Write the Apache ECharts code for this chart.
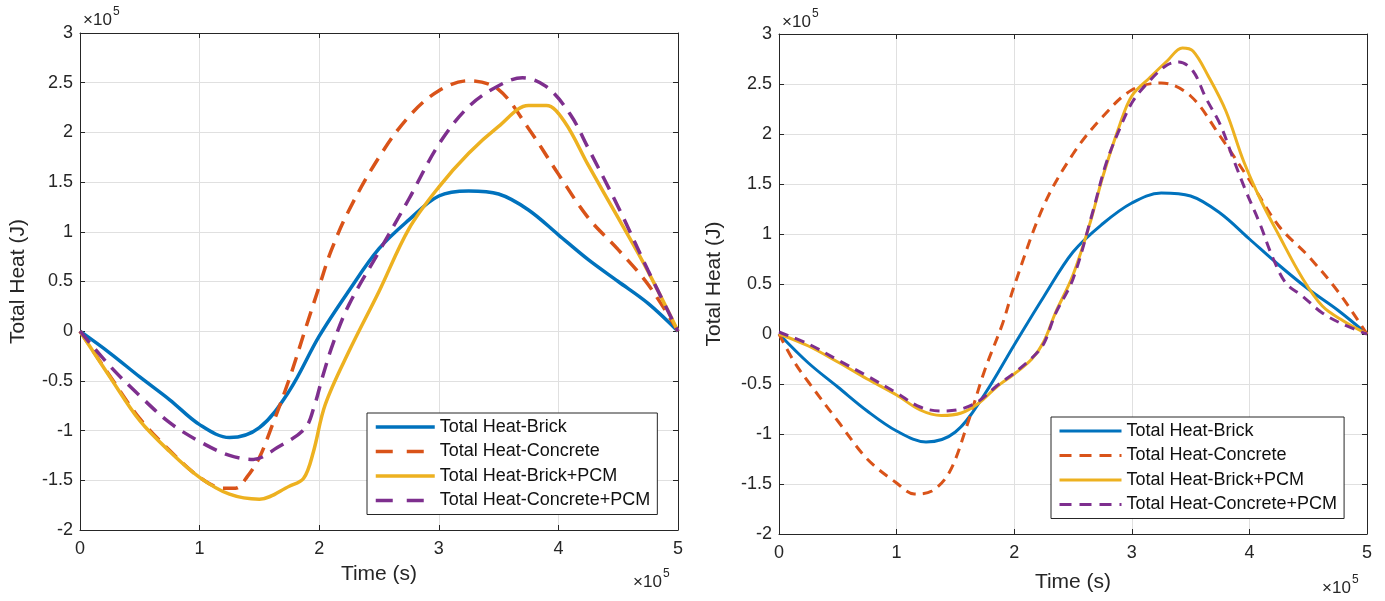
<!DOCTYPE html>
<html><head><meta charset="utf-8">
<script src="https://cdn.jsdelivr.net/npm/echarts@6/dist/echarts.min.js"></script>
<style>html,body{margin:0;padding:0;background:#fff}#c{width:1385px;height:601px}</style>
</head><body><div id="c"></div>
<script>
// Units: time in 1e5 s, heat in 1e5 J (axes carry the x10^5 multiplier)
const seriesNames = ['Total Heat-Brick','Total Heat-Concrete','Total Heat-Brick+PCM','Total Heat-Concrete+PCM'];
const xTicks = [0,1,2,3,4,5];
const yTicks = [-2,-1.5,-1,-0.5,0,0.5,1,1.5,2,2.5,3];

// ---- Left chart ----
const brickL_t = [0,0.25,0.5,0.75,1,1.25,1.5,1.75,2,2.25,2.5,2.75,3,3.25,3.5,3.75,4,4.25,4.5,4.75,5];
const brickL   = [0,-0.22,-0.46,-0.69,-0.94,-1.07,-0.97,-0.60,-0.05,0.41,0.83,1.12,1.36,1.41,1.38,1.22,0.97,0.72,0.50,0.28,0];
const concL_t  = [0,0.25,0.5,0.75,1,1.2,1.3,1.4,1.5,1.6,1.75,1.9,2,2.1,2.25,2.5,2.75,3,3.25,3.5,3.75,4,4.25,4.5,4.75,5];
const concL    = [0,-0.45,-0.88,-1.2,-1.47,-1.58,-1.58,-1.46,-1.27,-0.97,-0.48,0.08,0.45,0.81,1.22,1.75,2.16,2.42,2.52,2.43,2.04,1.58,1.14,0.82,0.47,0];
const brpcmL_t = [0,0.25,0.5,0.75,1,1.25,1.5,1.75,1.87,1.95,2.05,2.25,2.5,2.75,3,3.25,3.5,3.75,3.9,4.05,4.25,4.5,4.75,5];
const brpcmL   = [0,-0.46,-0.9,-1.21,-1.47,-1.64,-1.69,-1.56,-1.48,-1.22,-0.74,-0.2,0.4,1.03,1.45,1.79,2.06,2.27,2.27,2.11,1.67,1.14,0.6,0];
const cpcmL_t  = [0,0.25,0.5,0.75,1,1.25,1.45,1.65,1.88,1.96,2.03,2.12,2.25,2.5,2.75,3,3.25,3.5,3.7,3.9,4.1,4.25,4.5,4.75,5];
const cpcmL    = [0,-0.35,-0.65,-0.92,-1.11,-1.25,-1.29,-1.17,-0.98,-0.75,-0.45,-0.11,0.27,0.8,1.33,1.88,2.26,2.47,2.55,2.46,2.18,1.84,1.25,0.61,0];

// ---- Right chart ----
const brickR_t = [0,0.25,0.5,0.75,1,1.25,1.5,1.75,2,2.25,2.5,2.75,3,3.25,3.5,3.75,4,4.25,4.5,4.75,5];
const brickR   = [0,-0.29,-0.53,-0.77,-0.97,-1.08,-0.98,-0.60,-0.11,0.37,0.82,1.10,1.31,1.41,1.38,1.21,0.95,0.69,0.45,0.24,0];
const concR_t  = [0,0.125,0.25,0.5,0.75,1,1.15,1.3,1.45,1.6,1.75,1.9,2,2.25,2.5,2.75,3,3.25,3.5,3.75,4,4.25,4.5,4.75,5];
const concR    = [0,-0.27,-0.48,-0.87,-1.25,-1.49,-1.6,-1.57,-1.38,-0.91,-0.36,0.1,0.48,1.28,1.8,2.17,2.44,2.51,2.38,1.98,1.54,1.08,0.78,0.43,0];
const brpcmR_t = [0,0.25,0.5,0.75,1,1.2,1.38,1.55,1.7,1.85,2,2.15,2.25,2.35,2.5,2.65,2.75,2.9,3,3.15,3.3,3.43,3.52,3.65,3.8,3.95,4.1,4.25,4.45,4.62,4.8,5];
const brpcmR   = [0,-0.12,-0.28,-0.45,-0.61,-0.76,-0.815,-0.79,-0.69,-0.53,-0.4,-0.25,-0.08,0.21,0.59,1.13,1.56,2.1,2.38,2.56,2.73,2.86,2.83,2.58,2.23,1.73,1.33,0.99,0.56,0.28,0.13,0];
const cpcmR_t  = [0,0.25,0.5,0.75,1,1.2,1.38,1.55,1.7,1.85,2,2.15,2.25,2.35,2.5,2.67,2.78,2.9,3.01,3.15,3.3,3.4,3.52,3.63,3.75,3.86,3.97,4.09,4.2,4.31,4.45,4.62,4.8,5];
const cpcmR    = [0.02,-0.1,-0.26,-0.42,-0.59,-0.73,-0.77,-0.75,-0.67,-0.52,-0.39,-0.24,-0.1,0.2,0.55,1.23,1.7,2.06,2.33,2.53,2.69,2.72,2.63,2.36,2.1,1.76,1.43,1.1,0.76,0.51,0.38,0.21,0.095,0];

const colors = ['#0072BD','#D95319','#EDB120','#7E2F8E'];
const dashed = [false,true,false,true];
const FONT = '"Liberation Sans", Arial, Helvetica, sans-serif';
const TXT = '#262626';

const zip = (t,v) => t.map((x,i)=>[x,v[i]]);
const chartData = [
  [zip(brickL_t,brickL), zip(concL_t,concL), zip(brpcmL_t,brpcmL), zip(cpcmL_t,cpcmL)],
  [zip(brickR_t,brickR), zip(concR_t,concR), zip(brpcmR_t,brpcmR), zip(cpcmR_t,cpcmR)]
];
const lineW = [3.5, 3];
const dashPat = [[15,9],[10,7]];
const legDash = [[17,14],[12,8]];

const grids = [
  {left:80, top:33, width:598, height:497},
  {left:779, top:34, width:588, height:500}
];

const xAxes = [], yAxes = [], series = [];
grids.forEach((g,gi)=>{
  const common = {gridIndex:gi, type:'value', min:xTicks[0], max:xTicks[xTicks.length-1], interval:1,
    axisLine:{show:true,onZero:false,lineStyle:{color:TXT,width:1}},
    axisTick:{show:true,inside:true,length:5,lineStyle:{color:TXT}}};
  xAxes.push(Object.assign({}, common, {position:'bottom',
    axisLabel:{fontSize:18,color:TXT,fontFamily:FONT,margin:10},
    splitLine:{show:true,lineStyle:{color:'#e0e0e0'}},
    name:'Time (s)', nameLocation:'middle', nameGap:gi===0?34:38,
    nameTextStyle:{fontSize:21,color:TXT,fontFamily:FONT}}));
  xAxes.push(Object.assign({}, common, {position:'top', axisLabel:{show:false}, splitLine:{show:false}}));
  const ycommon = {gridIndex:gi, type:'value', min:yTicks[0], max:yTicks[yTicks.length-1], interval:0.5,
    axisLine:{show:true,onZero:false,lineStyle:{color:TXT,width:1}},
    axisTick:{show:true,inside:true,length:5,lineStyle:{color:TXT}}};
  yAxes.push(Object.assign({}, ycommon, {position:'left',
    axisLabel:{fontSize:18,color:TXT,fontFamily:FONT,margin:7},
    splitLine:{show:true,lineStyle:{color:'#e0e0e0'}},
    name:'Total Heat (J)', nameLocation:'middle', nameGap:gi===0?51:54,
    nameTextStyle:{fontSize:21,color:TXT,fontFamily:FONT}}));
  yAxes.push(Object.assign({}, ycommon, {position:'right', axisLabel:{show:false}, splitLine:{show:false}}));
  chartData[gi].forEach((d,si)=>{
    series.push({
      type:'line', name:seriesNames[si], xAxisIndex:gi*2, yAxisIndex:gi*2,
      data:d, showSymbol:false, symbol:'none', smooth:0.35, z:2+si,
      lineStyle:{color:colors[si], width:lineW[gi], type: dashed[si]?dashPat[gi]:'solid'},
      itemStyle:{color:colors[si]}, animation:false
    });
  });
});

const legendBase = (gi, left, top) => ({
  orient:'vertical', left, top, selectedMode:false,
  itemWidth: gi===0?59:62, itemHeight:14, itemGap:4.5, padding:[4,7,4,7],
  borderColor:TXT, borderWidth:1, backgroundColor:'#fff', borderRadius:0,
  textStyle:{fontSize:18, lineHeight:20, color:'#111', fontFamily:FONT},
  itemStyle:{opacity:0, color:'rgba(0,0,0,0)', borderWidth:0},
  data: seriesNames.map((n,si)=>({name:n,
    itemStyle:{opacity:0, color:'rgba(0,0,0,0)', borderWidth:0},
    lineStyle:{color:colors[si], width:lineW[gi], type: dashed[si]?legDash[gi]:'solid', opacity:1}}))
});

function mult(x,y){
  return [
    {type:'text', left:x, top:y, style:{text:'×10', font:'17px '+FONT, fill:TXT}},
    {type:'text', left:x+30, top:y-6, style:{text:'5', font:'12px '+FONT, fill:TXT}}
  ];
}

const chart = echarts.init(document.getElementById('c'), null, {renderer:'canvas'});
chart.setOption({
  backgroundColor:'#fff',
  animation:false,
  grid: grids,
  xAxis: xAxes,
  yAxis: yAxes,
  series,
  legend: [legendBase(0,367,413), legendBase(1,1051,417)],
  graphic: [].concat(mult(83,12), mult(633,574), mult(782,14), mult(1322,580))
});
</script></body></html>
